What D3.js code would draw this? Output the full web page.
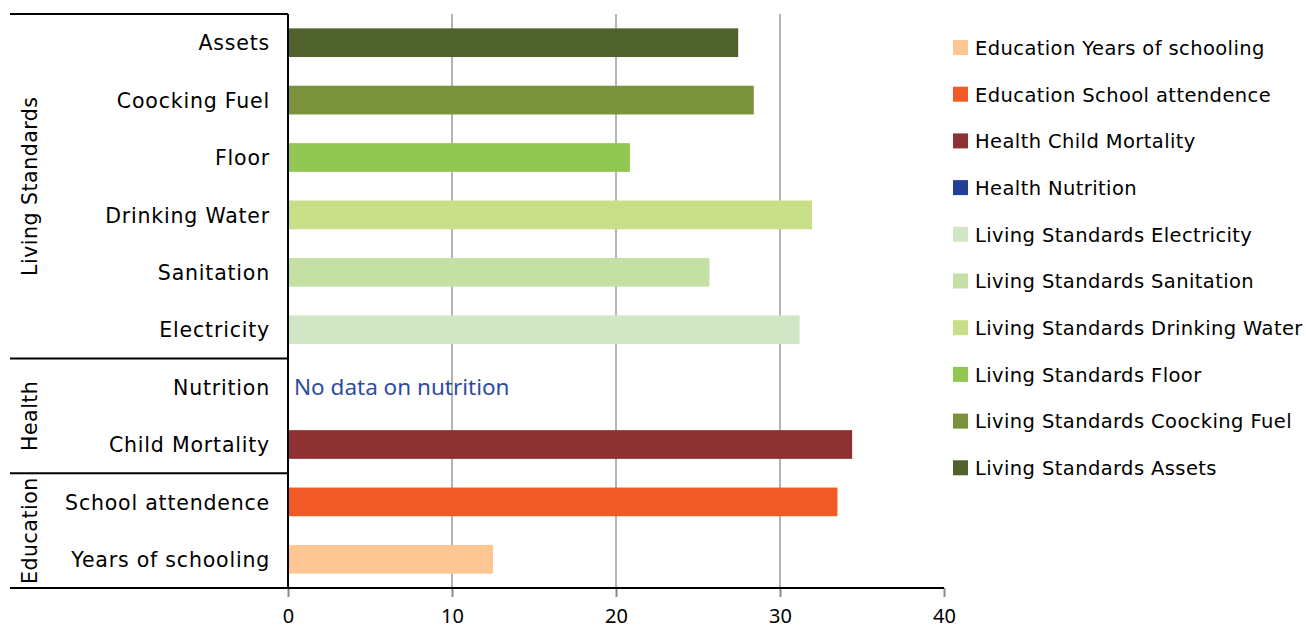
<!DOCTYPE html>
<html><head><meta charset="utf-8">
<script src="https://cdn.jsdelivr.net/npm/d3@7"></script>
<style>body{margin:0;background:#fff}svg{display:block}</style>
</head><body>
<script>
// Data (bottom-to-top order as in the chart)
const categories = ["Years of schooling","School attendence","Child Mortality","Nutrition","Electricity","Sanitation","Drinking Water","Floor","Coocking Fuel","Assets"];
const groups = ["Education","Education","Health","Health","Living Standards","Living Standards","Living Standards","Living Standards","Living Standards","Living Standards"];
const values = [12.5, 33.5, 34.4, null, 31.2, 25.7, 31.95, 20.85, 28.4, 27.45];
const colors = ["#fdc793","#f15a24","#8e3133","#233f96","#d0e6c5","#c5e0a5","#c8de87","#92c852","#7a923b","#4f612c"];
const xTicks = [0,10,20,30,40];
const groupNames = ["Education","Health","Living Standards"];
const noDataNote = "No data on nutrition";

const W = 1306, H = 629;
const svg = d3.select("body").append("svg").attr("width", W).attr("height", H);
const font = "'DejaVu Sans', sans-serif";

const x = d3.scaleLinear().domain([0,40]).range([288,944]);
const y = d3.scaleBand().domain(categories.slice().reverse()).range([14,588]).paddingInner(0.5).paddingOuter(0.25);
const yFull = d3.scaleBand().domain(categories.slice().reverse()).range([14,588]);

// gridlines
svg.append("g").selectAll("line").data(xTicks.filter(t => t>0 && t<40)).join("line")
  .attr("x1", d=>x(d)).attr("x2", d=>x(d)).attr("y1",14).attr("y2",588)
  .attr("stroke","#b4b4b8").attr("stroke-width",2);

// bars
const data = categories.map((c,i)=>({c, g:groups[i], v:values[i], col:colors[i]}));
svg.append("g").selectAll("rect").data(data.filter(d=>d.v!=null)).join("rect")
  .attr("x", x(0)).attr("y", d=>y(d.c)).attr("width", d=>x(d.v)-x(0)).attr("height", y.bandwidth())
  .attr("fill", d=>d.col);

// note
svg.append("text").attr("x", x(0)+6).attr("y", yFull("Nutrition")+yFull.bandwidth()/2)
  .attr("dy","0.36em").attr("font-family","'Noto Sans', sans-serif").attr("font-size",22.5)
  .attr("fill","#2e4da0").text(noDataNote);

// x axis
const xAxis = d3.axisBottom(x).tickValues(xTicks).tickSize(9).tickPadding(12);
const gx = svg.append("g").attr("transform","translate(0,588)").call(xAxis);
gx.select(".domain").remove();
gx.selectAll(".tick line").attr("stroke","#8a8a8a").attr("stroke-width",2);
gx.selectAll(".tick text").attr("font-family","'Noto Sans', sans-serif").attr("font-size",20).attr("fill","#000");
svg.append("line").attr("x1",10).attr("x2",944).attr("y1",588).attr("y2",588).attr("stroke","#000").attr("stroke-width",2);

// left axis & separators
svg.append("line").attr("x1",288).attr("x2",288).attr("y1",14).attr("y2",589).attr("stroke","#000").attr("stroke-width",2);
svg.append("line").attr("x1",10).attr("x2",288).attr("y1",14).attr("y2",14).attr("stroke","#000").attr("stroke-width",2);
const groupExtents = groupNames.map(g=>{
  const cs = categories.filter((c,i)=>groups[i]===g);
  const ys = cs.map(c=>yFull(c));
  return {g, y0: d3.min(ys), y1: d3.max(ys)+yFull.bandwidth()};
});
groupExtents.forEach(e=>{
  if (e.y0 > 20) svg.append("line").attr("x1",10).attr("x2",288).attr("y1",e.y0).attr("y2",e.y0).attr("stroke","#000").attr("stroke-width",2);
  svg.append("text").attr("transform",`translate(30,${(e.y0+e.y1)/2}) rotate(-90)`)
    .attr("text-anchor","middle").attr("dy","0.35em").attr("font-family",font).attr("font-size",20.5)
    .attr("letter-spacing","0.5px").attr("fill","#000").text(e.g);
});

// category labels
svg.append("g").selectAll("text").data(categories).join("text")
  .attr("x",270).attr("y", d=>yFull(d)+yFull.bandwidth()/2).attr("dy","0.38em")
  .attr("text-anchor","end").attr("font-family",font).attr("font-size",20.5).attr("letter-spacing","0.8px")
  .attr("fill","#000").text(d=>d);

// legend
const leg = svg.append("g");
data.forEach((d,i)=>{
  const ly = 48 + i*46.7;
  leg.append("rect").attr("x",953).attr("y",ly-8).attr("width",15).attr("height",15).attr("fill",d.col);
  leg.append("text").attr("x",975).attr("y",ly).attr("dy","0.35em").attr("font-family",font)
    .attr("font-size",19.5).attr("letter-spacing","0.4px").attr("fill","#000").text(d.g+" "+d.c);
});
</script>
</body></html>
